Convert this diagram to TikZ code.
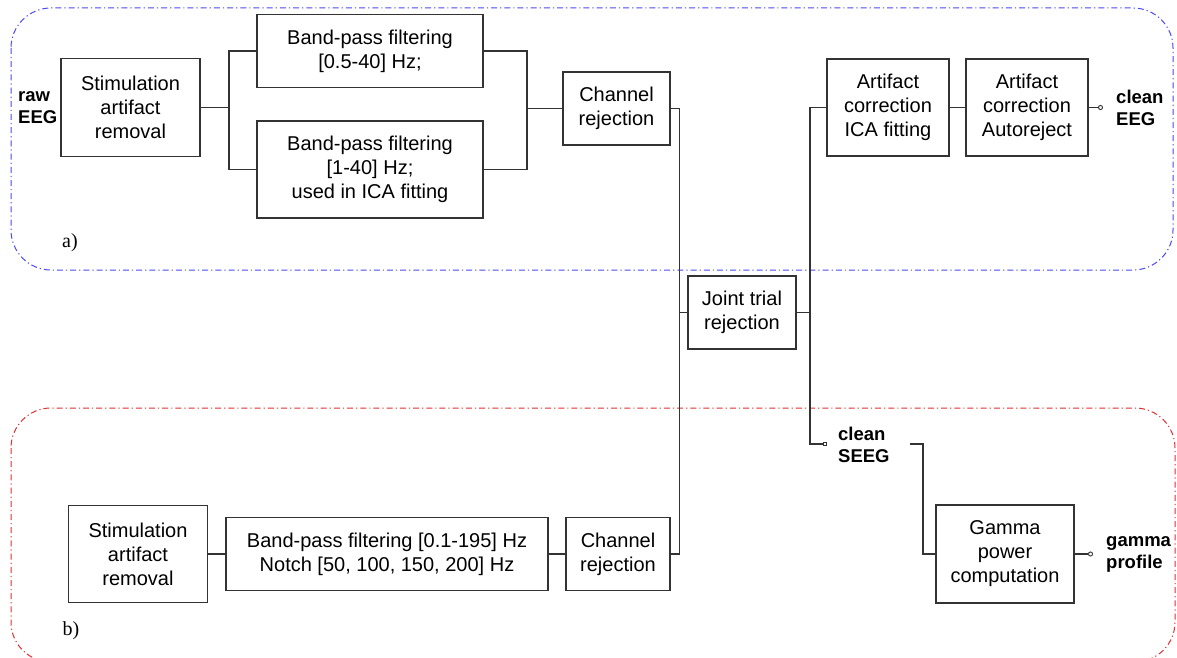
\documentclass[tikz,border=0pt]{standalone}
\usepackage{fontspec}
\setmainfont{Liberation Sans}
\newfontfamily\lblserif{Liberation Serif}
\usetikzlibrary{arrows.meta}
\definecolor{regblue}{HTML}{4A4AF0}
\definecolor{regred}{HTML}{E03030}
\definecolor{ln}{HTML}{333333}
\tikzset{
  procbox/.style={draw=ln, line width=1.2pt, align=center, inner sep=0pt,
    font=\fontsize{20}{24}\selectfont},
  iolabel/.style={align=left, inner sep=0pt, anchor=west,
    font=\fontsize{18.5}{22}\selectfont\bfseries},
  conn/.style={draw=ln, line width=1.1pt},
  region/.style={line width=1pt, rounded corners=40pt,
    dash pattern=on 6pt off 3pt on 1.2pt off 3pt},
  partlbl/.style={inner sep=0pt, font=\lblserif\fontsize{20}{24}\selectfont},
  outtip/.style={-{Circle[open, length=5pt, width=5pt, line width=0.9pt]}},
  intip/.style={-{Square[open, length=4.5pt, width=4.5pt, line width=0.9pt]}},
}
\begin{document}
\begin{tikzpicture}[x=1pt,y=-1pt]
\useasboundingbox (0,0) rectangle (1177,658);

% regions
\draw[region, draw=regblue] (11,8) rectangle (1173,270);
\draw[region, draw=regred] (11,408) rectangle (1175,662);
\node[partlbl] (la) at (70,243) {a)};
\node[partlbl] (lb) at (71,631) {b)};

% top row
\node[procbox, minimum width=139pt, minimum height=98pt] (sa) at (130.5,107.5) {Stimulation\\artifact\\removal};
\node[procbox, minimum width=226pt, minimum height=73pt] (bpa) at (370,51) {Band-pass filtering\\{[0.5-40]} Hz;};
\node[procbox, minimum width=226pt, minimum height=97pt] (bpb) at (370,169.5) {Band-pass filtering\\{[1-40]} Hz;\\used in ICA fitting};
\node[procbox, minimum width=107pt, minimum height=73pt] (cra) at (616.5,108.5) {Channel\\rejection};
\node[procbox, minimum width=122pt, minimum height=97pt] (ica) at (888,107.5) {Artifact\\correction\\ICA fitting};
\node[procbox, minimum width=122pt, minimum height=97pt] (ar) at (1027,107.5) {Artifact\\correction\\Autoreject};
\node[iolabel] (raweeg) at (18,107.5) {raw\\EEG};
\node[iolabel] (cleaneeg) at (1116,107.5) {clean\\EEG};

% middle
\node[procbox, minimum width=108pt, minimum height=73pt] (joint) at (742,312.5) {Joint trial\\rejection};
\node[iolabel] (cleanseeg) at (838,444.5) {clean\\SEEG};

% bottom row
\node[procbox, minimum width=139pt, minimum height=97pt] (sab) at (138,554) {Stimulation\\artifact\\removal};
\node[procbox, minimum width=322pt, minimum height=73pt] (bpc) at (387,554) {Band-pass filtering [0.1-195] Hz\\Notch [50, 100, 150, 200] Hz};
\node[procbox, minimum width=104pt, minimum height=73pt] (crb) at (618,554) {Channel\\rejection};
\node[procbox, minimum width=138pt, minimum height=98pt] (gam) at (1005,554) {Gamma\\power\\computation};
\node[iolabel] (gprof) at (1106,554) {gamma\\profile};

% junction coordinates
\coordinate (j1) at (229,107.5);
\coordinate (j2) at (527,108.5);
\coordinate (j3) at (679.5,312.5);
\coordinate (j4) at (810,312.5);
\coordinate (tin) at (827,444);
\coordinate (tout) at (910,444);
\coordinate (tturn) at (923,444);
\coordinate (teeg) at (1103,107.5);
\coordinate (tgam) at (1093,554);

% connectors
\draw[conn] (sa.east) -- (j1);
\draw[conn] (bpa.west) -| (j1);
\draw[conn] (bpb.west) -| (j1);
\draw[conn] (bpa.east) -| (j2);
\draw[conn] (bpb.east) -| (j2);
\draw[conn] (j2) -- (cra.west);
\draw[conn] (cra.east) -| (j3);
\draw[conn] (crb.east) -| (j3);
\draw[conn] (j3) -- (joint.west);
\draw[conn] (joint.east) -- (j4);
\draw[conn] (ica.west) -| (j4);
\draw[conn] (ica.east) -- (ar.west);
\draw[conn, intip] (j4) |- (tin);
\draw[conn] (tout) -- (tturn) |- (gam.west);
\draw[conn, outtip] (ar.east) -- (teeg);
\draw[conn, outtip] (gam.east) -- (tgam);
\draw[conn] (sab.east) -- (bpc.west);
\draw[conn] (bpc.east) -- (crb.west);
\end{tikzpicture}
\end{document}
